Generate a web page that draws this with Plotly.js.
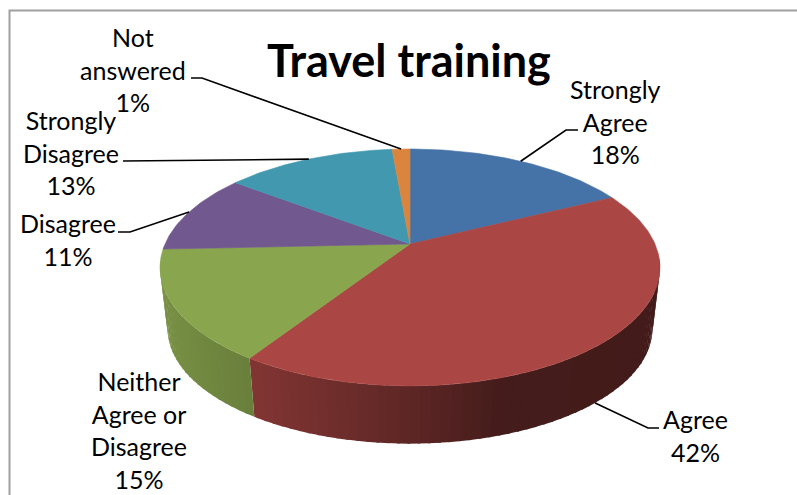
<!DOCTYPE html>
<html><head><meta charset="utf-8">
<script src="https://cdn.plot.ly/plotly-3.0.1.min.js"></script>
<style>html,body{margin:0;padding:0;background:#fff;overflow:hidden}</style>
</head><body><div id="chart" style="width:797px;height:495px"></div>
<script>
// Data
const categories = ["Strongly Agree", "Agree", "Neither Agree or Disagree", "Disagree", "Strongly Disagree", "Not answered"];
const labelLines = [["Strongly","Agree"], ["Agree"], ["Neither","Agree or","Disagree"], ["Disagree"], ["Strongly","Disagree"], ["Not","answered"]];
const values = [17.7, 41.5, 15.1, 11.0, 13.3, 1.4];
const colors = ["#4572A7", "#AA4643", "#89A54E", "#71588F", "#4198AF", "#DB843D"];
const titleText = "Travel training";

// Layout of the labels (pixel-scaled axes)
const labelX = [615, 695, 139, 68, 71, 133];
const labelY = [121, 435, 430, 239, 152, 69];
const leaderElbows = [[[566,130],[578,130]], [[648,428],[659,428]], null, [[130,232],[118,232]], [[123,161]], [[202,78],[191,78]]];

// Perspective projection of the tilted disc
const cx = 410, topCy = 244, botCy = 306, A = 245, B = 113.8, K = 0.198, botScale = 0.97;
function rim(deg, bottom) {
  const t = deg * Math.PI / 180, u = Math.sin(t), v = -Math.cos(t), w = 1 - K * v;
  const s = bottom ? botScale : 1;
  return [cx + s * A * u / w, (bottom ? botCy : topCy) + s * B * v / w];
}
const shadeStops = [[160,.88],[255,.76],[400,.56],[500,.40],[660,.39]];
function shade(x) {
  for (let i = 1; i < shadeStops.length; i++) {
    if (x <= shadeStops[i][0]) {
      const a = shadeStops[i-1], b = shadeStops[i];
      return a[1] + (b[1]-a[1]) * Math.max(0, x-a[0]) / (b[0]-a[0]);
    }
  }
  return shadeStops[shadeStops.length-1][1];
}
function tint(hex, f) {
  const n = parseInt(hex.slice(1), 16);
  return `rgb(${Math.round((n>>16)*f)},${Math.round(((n>>8)&255)*f)},${Math.round((n&255)*f)})`;
}
const total = values.reduce((a,b)=>a+b, 0);
const traces = [];
function poly(pts, color, name, lw) {
  traces.push({type:"scatter", mode:"lines", x:pts.map(p=>p[0]), y:pts.map(p=>p[1]), fill:"toself",
    fillcolor:color, line:{color:color, width:lw}, hoverinfo:"skip", name:name, showlegend:false});
}
// Side wall strips, then top faces
let cum = 0;
const spans = values.map(v => { const s = [cum, cum + v/total*360]; cum = s[1]; return s; });
const wallFrom = 96, wallTo = 262, step = 2;
spans.forEach((sp, i) => {
  const a = Math.max(sp[0], wallFrom), b = Math.min(sp[1], wallTo);
  for (let d = a; d < b; d += step) {
    const e = Math.min(d + step + 0.5, b);
    const p = [rim(d,false), rim(e,false), rim(e,true), rim(d,true)];
    const xm = (p[0][0]+p[1][0]+p[2][0]+p[3][0]) / 4;
    poly(p, tint(colors[i], shade(xm)), categories[i] + " side", 0);
  }
});
spans.forEach((sp, i) => {
  const pts = [[cx, topCy]];
  for (let d = sp[0]; d < sp[1]; d += 1) pts.push(rim(d,false));
  pts.push(rim(sp[1],false), [cx, topCy]);
  poly(pts, colors[i], categories[i], 0.6);
});
// Leaders
leaderElbows.forEach((el, i) => {
  if (!el) return;
  const mid = (spans[i][0] + spans[i][1]) / 2;
  const start = rim(mid, mid > 90 && mid < 270);
  const pts = [start].concat(el);
  traces.push({type:"scatter", mode:"lines", x:pts.map(p=>p[0]), y:pts.map(p=>p[1]),
    line:{color:"#000", width:1.6}, hoverinfo:"skip", showlegend:false});
});
const font = "Lato, 'Open Sans', sans-serif";
const annotations = categories.map((c, i) => ({
  xref:"x", yref:"y", x:labelX[i], y:labelY[i], xanchor:"center", yanchor:"middle", showarrow:false, align:"center",
  text: labelLines[i].concat([Math.round(values[i]/total*100) + "%"]).join("<br>"),
  font:{family:font, size:25, color:"#000"}
}));
annotations.push({xref:"x", yref:"y", x:409, y:60, xanchor:"center", yanchor:"middle", showarrow:false,
  text:"<b>"+titleText+"</b>", font:{family:font, size:45, color:"#000"}});
Plotly.newPlot("chart", traces, {
  width:797, height:495, margin:{l:0,r:0,t:0,b:0}, paper_bgcolor:"#fff", plot_bgcolor:"#fff", showlegend:false,
  xaxis:{range:[0,797], visible:false, fixedrange:true},
  yaxis:{range:[495,0], visible:false, fixedrange:true},
  shapes:[{type:"rect", xref:"x", yref:"y", x0:9.5, y0:10.5, x1:900, y1:700, line:{color:"#a0a0a0", width:2}, layer:"below"}],
  annotations:annotations
}, {displayModeBar:false, staticPlot:true});
</script></body></html>
